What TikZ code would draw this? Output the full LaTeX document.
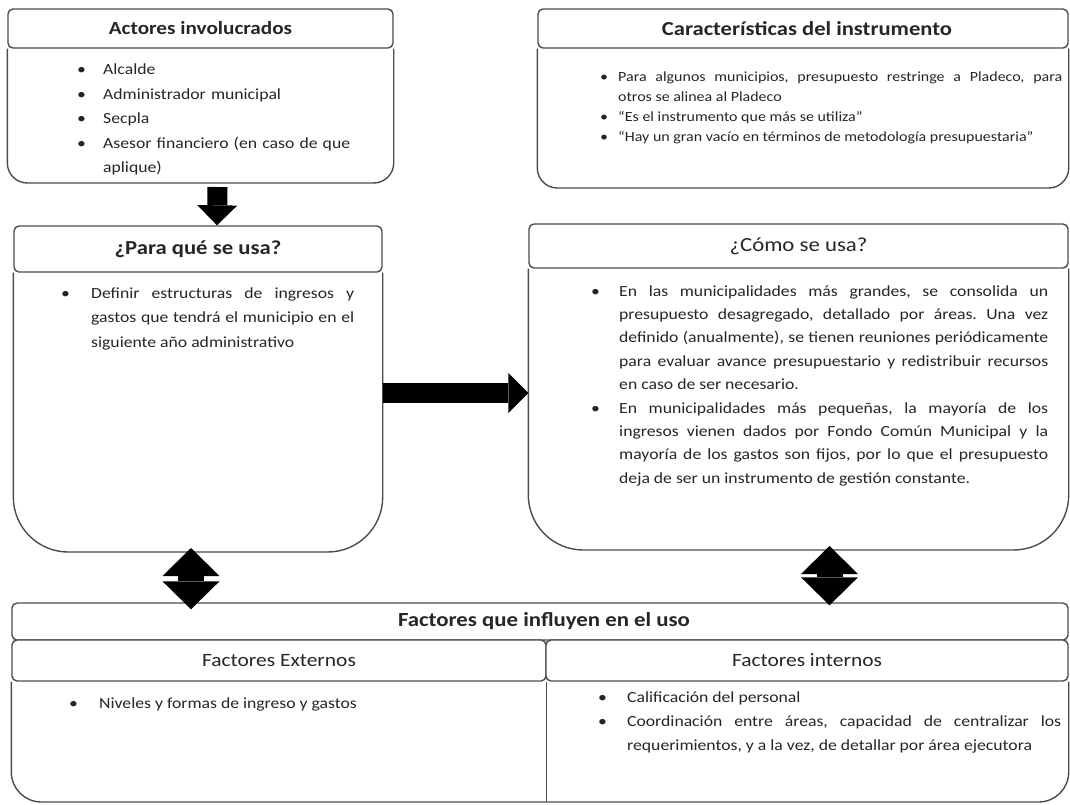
\documentclass[tikz,border=0pt]{standalone}
\usepackage{fontspec}
\setmainfont{Carlito}[FakeStretch=1.14]
\usetikzlibrary{arrows.meta}

\frenchspacing
\hyphenpenalty=10000
\exhyphenpenalty=10000
\tolerance=10000
\hbadness=10000

\newcommand{\itm}[2]{\par\hangindent=#1\hangafter=1\noindent\strut\makebox[#1][l]{\textbullet}#2\par}

\tikzset{
  boxline/.style={draw=black!70, line width=1.4pt},
  head/.style={boxline, fill=white, rounded corners=5pt, inner sep=0pt, text=black!85},
  txt/.style={anchor=north west, inner sep=0pt, text=black!85, align=justify},
  blockarrow/.style={line width=20pt, -{Triangle[width=40pt,length=20pt,line width=0pt]}},
  twoway/.style={line width=26pt, {Triangle[width=57pt,length=28pt,line width=0pt]}-{Triangle[width=57pt,length=28pt,line width=0pt]}},
}

\begin{document}
\begin{tikzpicture}[x=1pt, y=-1pt]
        \path[use as bounding box, fill=white] (0,0) rectangle (1070,804);

        \node[head, minimum width=385pt, minimum height=39pt, font=\bfseries\fontsize{18.6}{21}\selectfont] (actores) at (200.5,28.5) {Actores involucrados};
        \coordinate (actores-b) at (200.5,183);
        \draw[boxline, rounded corners=20pt] (actores.south west) -- (actores.south west |- actores-b) -- (actores.south east |- actores-b) -- (actores.south east);
        \node[txt, align=left, text width=300pt, font=\fontsize{15.5}{24.5}\selectfont] (actores-t) at (77,50) {\itm{26pt}{Alcalde}\itm{26pt}{Administrador municipal}\itm{26pt}{Secpla}\itm{26pt}{Asesor financiero (en caso de que\newline aplique)}};

        \node[head, minimum width=530pt, minimum height=39pt, font=\bfseries\fontsize{19.8}{22}\selectfont] (caract) at (803,28.5) {\hspace*{8pt}Características del instrumento};
        \coordinate (caract-b) at (803,188);
        \draw[boxline, rounded corners=20pt] (caract.south west) -- (caract.south west |- caract-b) -- (caract.south east |- caract-b) -- (caract.south east);
        \node[txt, text width=462pt, font=\fontsize{14}{20}\selectfont] (caract-t) at (600,61) {\itm{18pt}{Para algunos municipios, presupuesto restringe a Pladeco, para\linebreak otros se alinea al Pladeco}\itm{18pt}{“Es el instrumento que más se utiliza”}\itm{18pt}{“Hay un gran vacío en términos de metodología presupuestaria”}};

        \node[head, minimum width=368pt, minimum height=46pt, font=\bfseries\fontsize{19.9}{22}\selectfont] (para) at (198,249) {¿Para qué se usa?};
        \coordinate (para-b) at (198,552);
        \draw[boxline, rounded corners=55pt] (para.south west) -- (para.south west |- para-b) -- (para.south east |- para-b) -- (para.south east);
        \node[txt, text width=293pt, font=\fontsize{15.5}{24.5}\selectfont] (para-t) at (61,273.5) {\itm{30pt}{Definir estructuras de ingresos y\linebreak gastos que tendrá el municipio en el\linebreak siguiente año administrativo}};

        \node[head, minimum width=539pt, minimum height=44pt, font=\fontsize{20}{23}\selectfont] (como) at (798.5,246) {¿Cómo se usa?};
        \coordinate (como-b) at (798.5,550);
        \draw[boxline, rounded corners=55pt] (como.south west) -- (como.south west |- como-b) -- (como.south east |- como-b) -- (como.south east);
        \node[txt, text width=457pt, font=\fontsize{15.5}{23.4}\selectfont] (como-t) at (591,272.5) {\itm{28pt}{En las municipalidades más grandes, se consolida un\linebreak presupuesto desagregado, detallado por áreas. Una vez\linebreak definido (anualmente), se tienen reuniones periódicamente\linebreak para evaluar avance presupuestario y redistribuir recursos\linebreak en caso de ser necesario.}\itm{28pt}{En municipalidades más pequeñas, la mayoría de los\linebreak ingresos vienen dados por Fondo Común Municipal y la\linebreak mayoría de los gastos son fijos, por lo que el presupuesto\linebreak deja de ser un instrumento de gestión constante.}};

        \node[head, minimum width=1056pt, minimum height=37pt, font=\bfseries\fontsize{20}{22}\selectfont] (factores) at (540,621.5) {\hspace*{8pt}Factores que influyen en el uso};
        \node[head, minimum width=534pt, minimum height=41pt, font=\fontsize{18.8}{21}\selectfont] (externos) at (279,660.5) {Factores Externos};
        \node[head, minimum width=522pt, minimum height=41pt, font=\fontsize{18.8}{21}\selectfont] (internos) at (807,660.5) {Factores internos};
        \coordinate (factores-b) at (540,802);
        \draw[boxline, rounded corners=30pt] (externos.south west) -- (externos.south west |- factores-b) -- (internos.south east |- factores-b) -- (internos.south east);
        \draw[boxline] (externos.south east) -- (externos.south east |- factores-b);
        \node[txt, text width=400pt, font=\fontsize{15.5}{24}\selectfont] (externos-t) at (69,684) {\itm{30pt}{Niveles y formas de ingreso y gastos}};
        \node[txt, text width=463pt, font=\fontsize{15.5}{24}\selectfont] (internos-t) at (598,678) {\itm{29pt}{Calificación del personal}\itm{29pt}{Coordinación entre áreas, capacidad de centralizar los\linebreak requerimientos, y a la vez, de detallar por área ejecutora}};

        \draw[blockarrow] ([xshift=17pt,yshift=-4pt]actores-b) -- ([xshift=19pt]para.north);
        \draw[blockarrow] (para.east |- 0,393) -- (como.west |- 0,393);
        \draw[twoway] ([xshift=-7pt,yshift=4pt]para-b) -- ([xshift=-7pt,yshift=-7pt]para-b |- factores.north);
        \draw[twoway] ([xshift=31pt,yshift=4pt]como-b) -- ([xshift=31pt,yshift=-3pt]como-b |- factores.north);
\end{tikzpicture}
\end{document}
